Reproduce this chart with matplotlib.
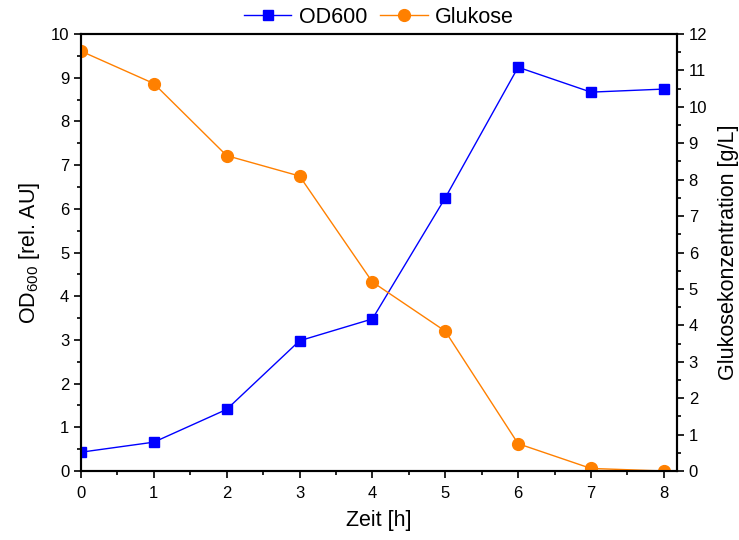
import numpy as np
import matplotlib.pyplot as plt

plt.rcParams['font.family'] = ['Liberation Sans', 'DejaVu Sans']
plt.rcParams['mathtext.fontset'] = 'custom'
plt.rcParams['mathtext.rm'] = 'Liberation Sans'

zeit = [0, 1, 2, 3, 4, 5, 6, 7, 8]
od600 = [0.43, 0.66, 1.41, 2.98, 3.48, 6.25, 9.24, 8.67, 8.74]
glukose = [11.53, 10.64, 8.66, 8.10, 5.19, 3.84, 0.75, 0.07, 0.0]

fig = plt.figure(figsize=(7.39, 5.40), dpi=100)
ax = fig.add_axes([0.1096, 0.1278, 0.8064, 0.8092])
ax2 = ax.twinx()

l1, = ax.plot(zeit, od600, color='#0000ff', lw=1, marker='s', ms=7.7, label='OD600', zorder=3)
l2, = ax2.plot(zeit, glukose, color='#ff8000', lw=1, marker='o', ms=8.5, label='Glukose')

ax.set_xlim(0, 8.18)
ax.set_ylim(0, 10)
ax2.set_ylim(0, 12)
ax.set_xticks(range(9))
ax.set_xticks(np.arange(0.5, 8.5, 1), minor=True)
ax.set_yticks(range(11))
ax.set_yticks(np.arange(0.5, 10, 1), minor=True)
ax2.set_yticks(range(13))
ax2.set_yticks(np.arange(0.5, 12, 1), minor=True)

for a in (ax, ax2):
    a.tick_params(which='major', direction='out', length=5, width=1.2, labelsize=12)
    a.tick_params(which='minor', direction='out', length=3, width=1.2)
    for s in a.spines.values():
        s.set_linewidth(1.5)
ax.tick_params(axis='x', pad=6)

ax.set_xlabel('Zeit [h]', fontsize=15.5, labelpad=6)
ax.set_ylabel(r'OD$\mathregular{_{600}}$ [rel. AU]', fontsize=15.5, labelpad=6)
ax2.set_ylabel('Glukosekonzentration [g/L]', fontsize=15.5, labelpad=8)

ax.legend([l1, l2], ['OD600', 'Glukose'], loc='lower center', bbox_to_anchor=(0.5, 0.985),
          ncol=2, frameon=False, fontsize=15.5, handlelength=2.2, columnspacing=0.6,
          handletextpad=0.35, borderpad=0.1)

fig.savefig('out.png', dpi=100)
